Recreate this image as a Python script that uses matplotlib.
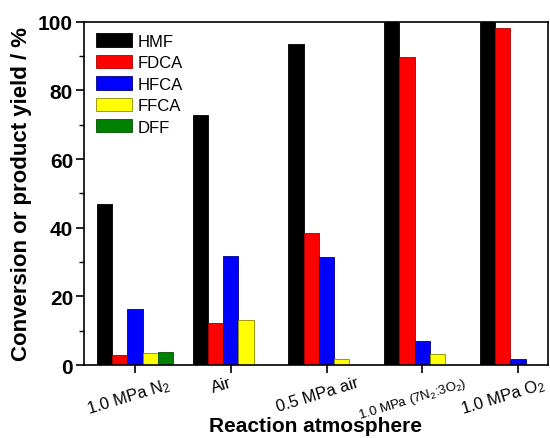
import matplotlib
matplotlib.use("Agg")
import matplotlib.pyplot as plt
import numpy as np

plt.rcParams['font.family'] = ['Liberation Sans', 'DejaVu Sans']
plt.rcParams['mathtext.default'] = 'regular'

atmospheres = ['1.0 MPa N$_2$', 'Air', '0.5 MPa air', '1.0 MPa (7N$_2$:3O$_2$)', '1.0 MPa O$_2$']
products = ['HMF', 'FDCA', 'HFCA', 'FFCA', 'DFF']
colors = ['#000000', '#ff0000', '#0000ff', '#ffff00', '#008000']

hmf = [46.9, 72.9, 93.6, 100, 100]
fdca = [3.0, 12.3, 38.4, 89.9, 98.2]
hfca = [16.4, 31.7, 31.4, 6.9, 1.75]
ffca = [3.6, 13.2, 1.75, 3.1, 0]
dff = [3.7, 0, 0, 0, 0]
series = [hmf, fdca, hfca, ffca, dff]

fig = plt.figure(figsize=(5.5, 4.39), dpi=100)
ax = fig.add_axes([0.153, 0.166, 0.843, 0.782])

x = np.arange(len(atmospheres))
w = 0.159
edges = ['#000000', '#aa0000', '#000088', '#888800', '#005000']
for i, (vals, name) in enumerate(zip(series, products)):
    ax.bar(x + (i - 2) * w, vals, w, color=colors[i], edgecolor=edges[i],
           linewidth=0.6, label=name)

ax.set_xlim(-0.53, 4.31)
ax.set_ylim(0, 100)
ax.set_yticks(np.arange(0, 101, 20))
ax.set_yticks(np.arange(0, 101, 10), minor=True)

# tick marks at group centres, labels (minor ticks) a bit to the left
lab_off = np.array([-0.063, -0.094, -0.094, -0.104, -0.157])
ax.set_xticks(x, [''] * len(x))
ax.set_xticks(x + lab_off, atmospheres, minor=True, rotation=17, fontsize=12)
ax.get_xticklabels(minor=True)[3].set_fontsize(9.5)
for lab in ax.get_yticklabels():
    lab.set_fontweight('bold')
    lab.set_fontsize(15)
ax.tick_params(axis='both', direction='out', length=6, width=1.2)
ax.tick_params(axis='y', which='minor', direction='out', length=3.5, width=1)
ax.tick_params(axis='x', which='minor', length=0, pad=7)
ax.tick_params(axis='y', pad=2)
for s in ax.spines.values():
    s.set_linewidth(1.2)

ax.set_ylabel('Conversion or product yield / %', fontsize=16, fontweight='bold', labelpad=4)
ax.set_xlabel('Reaction atmosphere', fontsize=15, fontweight='bold')
ax.xaxis.set_label_coords(0.5, -0.148)

ax.legend(loc='upper left', frameon=False, fontsize=12, handlelength=2.2,
          handleheight=0.85, labelspacing=0.36, handletextpad=0.3,
          borderaxespad=0.3, bbox_to_anchor=(0.0, 1.0))

fig.savefig('out.png', dpi=100)
